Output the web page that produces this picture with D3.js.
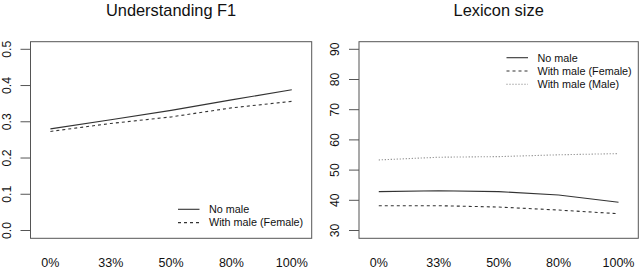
<!DOCTYPE html>
<html>
<head>
<meta charset="utf-8">
<script src="https://cdn.jsdelivr.net/npm/d3@7"></script>
<style>
  body { margin: 0; background: #fff; }
  svg { display: block; font-family: "Liberation Sans", Arial, sans-serif; }
</style>
</head>
<body>
<div id="chart"></div>
<script>
// categories shared by both panels
const categories = ["0%", "33%", "50%", "80%", "100%"];

// Understanding F1
const f1NoMale = [0.279, 0.304, 0.330, 0.359, 0.387];
const f1WithMaleFemale = [0.272, 0.294, 0.312, 0.337, 0.355];
const f1Ticks = [0.0, 0.1, 0.2, 0.3, 0.4, 0.5];

// Lexicon size
const lexNoMale = [42.7, 43.0, 42.7, 41.6, 39.2];
const lexWithMaleFemale = [38.05, 38.05, 37.6, 36.6, 35.4];
const lexWithMaleMale = [53.2, 54.1, 54.3, 54.9, 55.3];
const lexTicks = [30, 40, 50, 60, 70, 80, 90];

const W = 640, H = 269
const lineColor = "#333"
const dashes = { solid: null, dashed: "3,3", dotted: "1,2" }

const svg = d3.select("#chart").append("svg")
    .attr("width", W)
    .attr("height", H)

function drawPanel(p) {
    const x = d3.scalePoint()
        .domain(categories)
        .range([p.left, p.right])
        .padding(0.33)
    const y = d3.scaleLinear()
        .domain(p.domain)
        .range([230, 48.8])

    const g = svg.append("g")

    // title
    g.append("text")
        .attr("x", (p.left + p.right) / 2)
        .attr("y", 16)
        .attr("text-anchor", "middle")
        .attr("font-size", 16.4)
        .attr("fill", "#111")
        .text(p.title)

    // plot box
    g.append("rect")
        .attr("x", p.left)
        .attr("y", 41.7)
        .attr("width", p.right - p.left)
        .attr("height", 238.3 - 41.7)
        .attr("fill", "none")
        .attr("stroke", "#555")
        .attr("stroke-width", 1)

    // y axis, R style with rotated labels
    const yAxis = g.append("g")
        .attr("transform", "translate(" + p.left + ",0)")
        .call(d3.axisLeft(y).tickValues(p.ticks).tickSize(10).tickFormat(p.fmt))
    yAxis.select(".domain").remove()
    yAxis.selectAll(".tick line").attr("stroke", "#555")
    yAxis.selectAll(".tick text")
        .attr("x", null)
        .attr("dy", null)
        .attr("transform", "translate(-19.6,0) rotate(-90)")
        .attr("text-anchor", "middle")
        .attr("font-size", 12.2)
        .attr("fill", "#111")
        .attr("font-family", "Liberation Sans, Arial, sans-serif")

    // x labels, no axis line
    g.selectAll("text.xlab")
        .data(categories)
        .enter().append("text")
        .attr("class", "xlab")
        .attr("x", d => x(d))
        .attr("y", 267)
        .attr("text-anchor", "middle")
        .attr("font-size", 12.5)
        .attr("fill", "#111")
        .text(d => d)

    const line = d3.line()
        .x((d, i) => x(categories[i]))
        .y(d => y(d))

    p.series.forEach(s => {
        g.append("path")
            .datum(s.values)
            .attr("d", line)
            .attr("fill", "none")
            .attr("stroke", s.style === "dotted" ? "#777" : lineColor)
            .attr("stroke-width", 1.1)
            .attr("stroke-dasharray", dashes[s.style])
    })

    // legend
    const lg = g.append("g")
    p.series.forEach((s, i) => {
        const ly = p.legend.y + i * 13.3
        lg.append("line")
            .attr("x1", p.legend.x)
            .attr("x2", p.legend.x + 21.5)
            .attr("y1", ly)
            .attr("y2", ly)
            .attr("stroke", s.style === "dotted" ? "#777" : lineColor)
            .attr("stroke-width", 1.1)
            .attr("stroke-dasharray", dashes[s.style])
        lg.append("text")
            .attr("x", p.legend.x + 31)
            .attr("y", ly)
            .attr("dy", "0.36em")
            .attr("font-size", 10.8)
            .attr("fill", "#111")
            .text(s.name)
    })
}

drawPanel({
    title: "Understanding F1",
    left: 30.5, right: 311.7,
    domain: [0, 0.5],
    ticks: f1Ticks,
    fmt: d3.format(".1f"),
    legend: { x: 178, y: 209.3 },
    series: [
        { name: "No male", values: f1NoMale, style: "solid" },
        { name: "With male (Female)", values: f1WithMaleFemale, style: "dashed" }
    ]
})

drawPanel({
    title: "Lexicon size",
    left: 359, right: 638.3,
    domain: [30, 90],
    ticks: lexTicks,
    fmt: d3.format("d"),
    legend: { x: 506.5, y: 57.7 },
    series: [
        { name: "No male", values: lexNoMale, style: "solid" },
        { name: "With male (Female)", values: lexWithMaleFemale, style: "dashed" },
        { name: "With male (Male)", values: lexWithMaleMale, style: "dotted" }
    ]
})
</script>
</body>
</html>
